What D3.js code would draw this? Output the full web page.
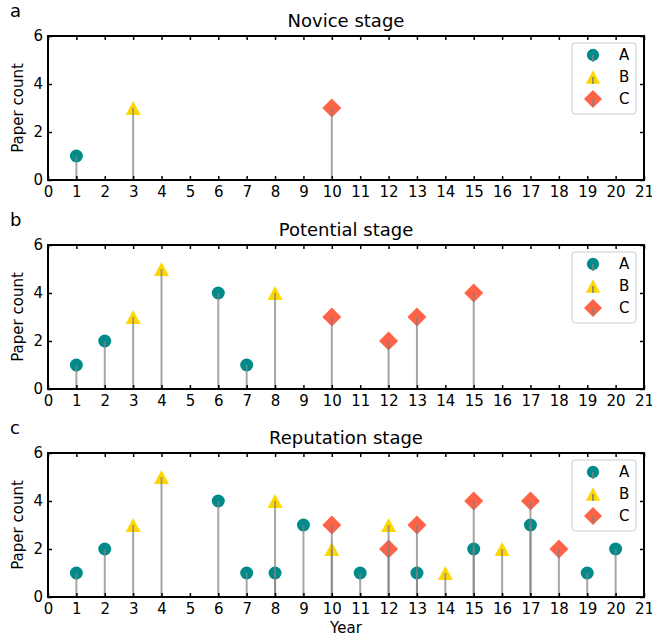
<!DOCTYPE html>
<html>
<head>
<meta charset="utf-8">
<script src="https://cdn.jsdelivr.net/npm/d3@7"></script>
<style>
  body { margin: 0; background: #fff; }
  text { font-family: "DejaVu Sans", sans-serif; fill: #000; }
</style>
</head>
<body>
<div id="chart"></div>
<script>
// values, [year, paper count]
const noviceA = [[1, 1]];
const noviceB = [[3, 3]];
const noviceC = [[10, 3]];

const potentialA = [[1, 1], [2, 2], [6, 4], [7, 1]];
const potentialB = [[3, 3], [4, 5], [8, 4]];
const potentialC = [[10, 3], [12, 2], [13, 3], [15, 4]];

const reputationA = [[1, 1], [2, 2], [6, 4], [7, 1], [8, 1], [9, 3], [11, 1], [13, 1], [15, 2], [17, 3], [19, 1], [20, 2]];
const reputationB = [[3, 3], [4, 5], [8, 4], [10, 2], [12, 3], [14, 1], [16, 2]];
const reputationC = [[10, 3], [12, 2], [13, 3], [15, 4], [17, 4], [18, 2]];

const panelLetters = ['a', 'b', 'c'];
const panelTitles = ['Novice stage', 'Potential stage', 'Reputation stage'];
const seriesNames = ['A', 'B', 'C'];
const xTicks = [0, 1, 2, 3, 4, 5, 6, 7, 8, 9, 10, 11, 12, 13, 14, 15, 16, 17, 18, 19, 20, 21];
const yTicks = [0, 2, 4, 6];

const panels = [
  [noviceA, noviceB, noviceC],
  [potentialA, potentialB, potentialC],
  [reputationA, reputationB, reputationC]
];

const colors = ['#008b8b', '#ffd700', '#ff6347'];
const width = 652, height = 639;
const left = 48, right = 644, plotH = 144;
const tops = [36, 245, 453];

// marker shapes, centred on the data point like matplotlib markers
function markerPath(i) {
  if (i === 0) return d3.symbol().type(d3.symbolCircle).size(Math.PI * 6.5 * 6.5)();
  if (i === 1) return 'M0,-7L7.5,7L-7.5,7Z';
  return 'M0,-9.5L9.5,0L0,9.5L-9.5,0Z';
}

const svg = d3.select('#chart').append('svg')
  .attr('width', width)
  .attr('height', height);

const x = d3.scaleLinear().domain([0, 21]).range([left, right]);

panels.forEach((series, p) => {
  const top = tops[p];
  const y = d3.scaleLinear().domain([0, 6]).range([top + plotH, top]);
  const g = svg.append('g');

  // panel letter and title
  g.append('text')
    .attr('x', 10).attr('y', top - 19)
    .style('font-size', '18px')
    .text(panelLetters[p]);
  g.append('text')
    .attr('x', (left + right) / 2).attr('y', top - 9)
    .attr('text-anchor', 'middle')
    .style('font-size', '18px')
    .text(panelTitles[p]);

  // markers first, stems drawn over them
  series.forEach((pts, s) => {
    g.selectAll('.m' + s)
      .data(pts)
      .enter()
      .append('path')
      .attr('d', markerPath(s))
      .attr('transform', d => 'translate(' + x(d[0]) + ',' + y(d[1]) + ')')
      .attr('fill', colors[s]);
  });
  series.forEach((pts, s) => {
    g.selectAll('.s' + s)
      .data(pts)
      .enter()
      .append('line')
      .attr('x1', d => x(d[0])).attr('x2', d => x(d[0]))
      .attr('y1', y(0)).attr('y2', d => y(d[1]))
      .attr('stroke', 'gray')
      .attr('stroke-opacity', 0.7)
      .attr('stroke-width', 2);
  });

  // axes with inward ticks on all four sides
  const fmt = d3.format('d');
  const xBottom = d3.axisBottom(x).tickValues(xTicks).tickFormat(fmt).tickSizeInner(-4).tickSizeOuter(0).tickPadding(6);
  const xTop = d3.axisTop(x).tickValues(xTicks).tickSizeInner(-4).tickSizeOuter(0).tickFormat('');
  const yLeft = d3.axisLeft(y).tickValues(yTicks).tickFormat(fmt).tickSizeInner(-4).tickSizeOuter(0).tickPadding(5);
  const yRight = d3.axisRight(y).tickValues(yTicks).tickSizeInner(-4).tickSizeOuter(0).tickFormat('');

  const axes = [
    g.append('g').attr('transform', 'translate(0,' + (top + plotH) + ')').call(xBottom),
    g.append('g').attr('transform', 'translate(0,' + top + ')').call(xTop),
    g.append('g').attr('transform', 'translate(' + left + ',0)').call(yLeft),
    g.append('g').attr('transform', 'translate(' + right + ',0)').call(yRight)
  ];
  axes.forEach(a => {
    a.select('.domain').remove();
    a.selectAll('.tick line').attr('stroke', '#000').attr('stroke-width', 1.5);
    a.selectAll('.tick text').style('font-size', '15px').style('font-family', '"DejaVu Sans", sans-serif').attr('fill', '#000');
  });

  g.append('rect')
    .attr('x', left).attr('y', top)
    .attr('width', right - left).attr('height', plotH)
    .attr('fill', 'none')
    .attr('stroke', '#000')
    .attr('stroke-width', 2);

  g.append('text')
    .attr('transform', 'translate(23,' + (top + plotH / 2) + ') rotate(-90)')
    .attr('text-anchor', 'middle')
    .style('font-size', '15px')
    .text('Paper count');

  // legend
  const lg = g.append('g').attr('transform', 'translate(572,' + (top + 7) + ')');
  lg.append('rect')
    .attr('width', 64).attr('height', 71)
    .attr('rx', 3)
    .attr('fill', '#fff')
    .attr('fill-opacity', 0.8)
    .attr('stroke', '#ccc');
  seriesNames.forEach((name, s) => {
    const cy = 12 + s * 22;
    lg.append('path')
      .attr('d', markerPath(s))
      .attr('transform', 'translate(21,' + cy + ') scale(0.95)')
      .attr('fill', colors[s]);
    lg.append('line')
      .attr('x1', 21).attr('x2', 21)
      .attr('y1', cy).attr('y2', cy + 7)
      .attr('stroke', 'gray')
      .attr('stroke-opacity', 0.8)
      .attr('stroke-width', 2);
    lg.append('text')
      .attr('x', 47).attr('y', cy + 5)
      .style('font-size', '15px')
      .text(name);
  });
});

svg.append('text')
  .attr('x', (left + right) / 2).attr('y', 633)
  .attr('text-anchor', 'middle')
  .style('font-size', '15px')
  .text('Year');
</script>
</body>
</html>
